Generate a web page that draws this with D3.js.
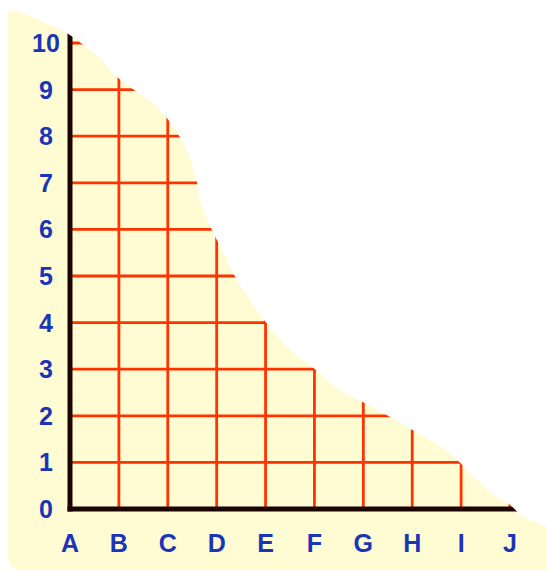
<!DOCTYPE html>
<html>
<head>
<meta charset="utf-8">
<script src="https://cdn.jsdelivr.net/npm/d3@7"></script>
<style>
  html, body { margin: 0; padding: 0; background: #ffffff; }
  svg { display: block; }
</style>
</head>
<body>
<script>
// ---- data ----
const categories = ["A", "B", "C", "D", "E", "F", "G", "H", "I", "J"];
const yTicks = [0, 1, 2, 3, 4, 5, 6, 7, 8, 9, 10];
// boundary of the shaded region (x in category units, y in value units)
const profileX = [-1.27, -0.96, -0.41, -0.06, 0.25, 0.61, 0.96, 1.29, 1.70, 1.98, 2.25, 2.39, 2.60, 2.66, 2.90, 3.11, 3.37, 3.68, 4.03, 4.50, 4.97, 5.52, 5.95, 6.44, 6.93, 7.36, 7.77, 7.98, 8.32, 8.73, 9.00, 9.27, 9.76, 10.3];
const profileY = [10.69, 10.64, 10.39, 10.21, 9.98, 9.68, 9.27, 9.01, 8.71, 8.39, 7.98, 7.70, 7.00, 6.63, 5.99, 5.56, 5.00, 4.48, 3.97, 3.41, 3.03, 2.55, 2.32, 2.04, 1.74, 1.48, 1.20, 0.99, 0.62, 0.26, 0.09, -0.17, -0.39, -0.80];

// ---- layout ----
const W = 547, H = 571;
const x0 = 70, x1 = 510, y0 = 509, y1 = 43;
const frameLeft = 8, frameBottom = 570, frameRight = 560, cornerR = 14;

const svg = d3.select("body").append("svg").attr("width", W).attr("height", H);

const x = d3.scalePoint().domain(categories).range([x0, x1]);
const xi = d3.scaleLinear().domain([0, categories.length - 1]).range([x0, x1]);
const y = d3.scaleLinear().domain([0, 10]).range([y0, y1]);

const pts = profileX.map((d, i) => [xi(d), y(profileY[i])]);
const lineGen = d3.line().curve(d3.curveCatmullRom.alpha(0.5));
const topPath = lineGen(pts);
const start = pts[0];
const shapePath = topPath +
  `L${frameRight},${frameBottom}` +
  `L${frameLeft + cornerR},${frameBottom}` +
  `Q${frameLeft},${frameBottom} ${frameLeft},${frameBottom - cornerR}` +
  `L${frameLeft},${start[1]}Z`;

const defs = svg.append("defs");
defs.append("clipPath").attr("id", "shapeClip").append("path").attr("d", shapePath);

svg.append("path").attr("d", shapePath).attr("fill", "#fffcd4");

const g = svg.append("g").attr("clip-path", "url(#shapeClip)");

// horizontal grid lines
g.selectAll("line.h").data(yTicks.filter(v => v > 0)).join("line")
  .attr("class", "h")
  .attr("x1", x0).attr("x2", x1 + 40)
  .attr("y1", d => y(d)).attr("y2", d => y(d))
  .attr("stroke", "#ff3300").attr("stroke-width", 2.8);

// vertical grid lines
g.selectAll("line.v").data(categories.slice(1)).join("line")
  .attr("class", "v")
  .attr("x1", d => x(d)).attr("x2", d => x(d))
  .attr("y1", y0).attr("y2", y1 - 40)
  .attr("stroke", "#ff3300").attr("stroke-width", 2.8);

// axes
g.append("line").attr("x1", x0).attr("x2", x0).attr("y1", y0 + 2.5).attr("y2", y1 - 30)
  .attr("stroke", "#1a0500").attr("stroke-width", 5);
g.append("line").attr("x1", x0 - 2.5).attr("x2", x1 + 30).attr("y1", y0).attr("y2", y0)
  .attr("stroke", "#1a0500").attr("stroke-width", 5);

// labels
const font = "'Comic Sans MS', 'Liberation Sans', Arial, sans-serif";
svg.selectAll("text.yl").data(yTicks).join("text")
  .attr("class", "yl")
  .attr("x", 46).attr("y", d => y(d) + 9)
  .attr("text-anchor", "middle")
  .attr("font-family", font).attr("font-weight", "bold").attr("font-size", 25)
  .attr("fill", "#1a35b8")
  .text(d => d);

svg.selectAll("text.xl").data(categories).join("text")
  .attr("class", "xl")
  .attr("x", d => x(d)).attr("y", 552)
  .attr("text-anchor", "middle")
  .attr("font-family", font).attr("font-weight", "bold").attr("font-size", 25)
  .attr("fill", "#1a35b8")
  .text(d => d);
</script>
</body>
</html>
